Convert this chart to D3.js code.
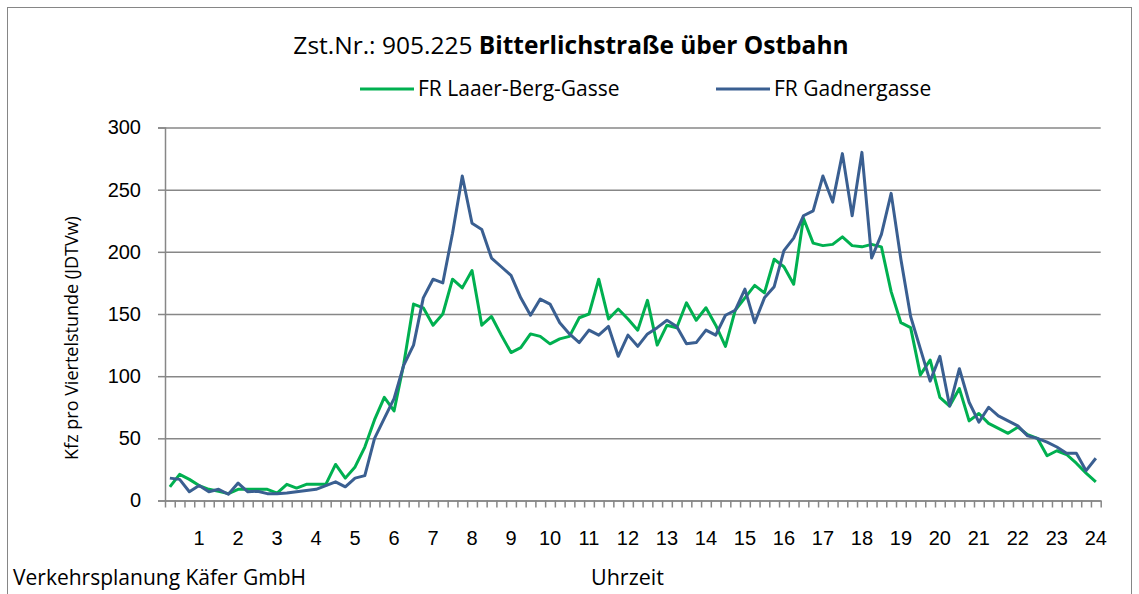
<!DOCTYPE html>
<html>
<head>
<meta charset="utf-8">
<script src="https://cdn.jsdelivr.net/npm/d3@7"></script>
<style>
  body { margin: 0; background: #fff; }
  svg { display: block; font-family: "Open Sans", sans-serif; }
</style>
</head>
<body>
<svg></svg>
<script>
// Stundenbeschriftung der x-Achse
const hourLabels = d3.range(1, 25).map(String);

// Kfz pro Viertelstunde, 96 Werte (00:00-24:00)
const laaerBerg = [
  11, 21, 17, 12, 9, 7.5, 5.5, 9, 9, 9, 9, 6, 13, 10, 13, 13,
  13, 29, 18, 27, 43, 65, 83, 72, 110, 158, 155, 141, 150, 178, 171, 185,
  141, 148, 133, 119, 123, 134, 132, 126, 130, 132, 147, 150, 178, 146, 154, 146,
  137, 161, 125, 141, 139, 159, 145, 155, 141, 124, 153, 163, 173, 167, 194, 188,
  174, 227, 207, 205, 206, 212, 205, 204, 206, 204, 168, 143, 139, 101, 113, 83,
  76, 90, 64, 70, 62, 58, 54, 59, 53, 50, 36, 40, 37, 30, 22, 15
];
const gadner = [
  18, 17, 7, 12, 7, 9, 5, 14, 7, 7.5, 5.5, 5.5, 6, 7, 8, 9,
  12, 15, 11, 18, 20, 50, 66, 82, 109, 125, 163, 178, 175, 215, 261, 223,
  218, 195, 188, 181, 163, 149, 162, 158, 143, 134, 127, 137, 133, 140, 116, 133,
  124, 134, 139, 145, 140, 126, 127, 137, 133, 149, 153, 170, 143, 163, 172, 201,
  211, 229, 233, 261, 240, 279, 229, 280, 195, 214, 247, 194, 148, 122, 96, 116,
  76, 106, 79, 63, 75, 68, 64, 60, 52, 50, 47, 43, 38, 38, 24, 34
];

const yTicks = [0, 50, 100, 150, 200, 250, 300];
const seriesNames = ["FR Laaer-Berg-Gasse", "FR Gadnergasse"];
const seriesColors = ["#00b050", "#3a5f91"];

const width = 1139;
const height = 594;
const marginTop = 127.5;
const marginRight = 38.3;
const marginBottom = 93.5;
const marginLeft = 165;

const svg = d3.select("svg")
    .attr("width", width)
    .attr("height", height)
    .attr("viewBox", [0, 0, width, height]);

// Rahmen des Diagrammbereichs
svg.append("rect")
    .attr("x", 7.5).attr("y", 7.5)
    .attr("width", 1124).attr("height", 600)
    .attr("fill", "#fff")
    .attr("stroke", "#868686")
    .attr("stroke-width", 1);

// Kategorien (Viertelstunden) und Grenzen dazwischen
const x = d3.scaleBand()
    .domain(d3.range(laaerBerg.length))
    .range([marginLeft, width - marginRight]);
const xEdge = d3.scaleLinear()
    .domain([0, laaerBerg.length])
    .range([marginLeft, width - marginRight]);
const y = d3.scaleLinear()
    .domain([0, 300])
    .range([height - marginBottom, marginTop]);

// Gitterlinien + y-Achse
svg.append("g")
    .attr("transform", `translate(${marginLeft},0)`)
    .call(d3.axisLeft(y).tickValues(yTicks).tickSize(7).tickPadding(17))
    .call(g => g.selectAll(".tick line").clone()
        .attr("x1", 0)
        .attr("x2", width - marginLeft - marginRight))
    .call(g => g.selectAll("line, path").attr("stroke", "#878787").attr("stroke-width", 1.5))
    .call(g => g.selectAll("text").attr("font-size", 20).attr("fill", "#000")
        .attr("font-family", null));

// x-Achse: Teilstriche an den Grenzen
svg.append("g")
    .attr("transform", `translate(0,${height - marginBottom})`)
    .call(d3.axisBottom(xEdge).tickValues(d3.range(laaerBerg.length + 1))
        .tickSize(7).tickSizeOuter(0).tickFormat(""))
    .call(g => g.selectAll("line, path").attr("stroke", "#878787").attr("stroke-width", 1.5));

// x-Achse: Stundenbeschriftung
svg.append("g")
    .attr("transform", `translate(0,${height - marginBottom})`)
    .call(d3.axisBottom(x).tickValues(d3.range(3, laaerBerg.length, 4))
        .tickFormat(i => hourLabels[(i - 3) / 4]).tickSize(0).tickPadding(30))
    .call(g => g.select(".domain").remove())
    .call(g => g.selectAll("text").attr("font-size", 20).attr("fill", "#000")
        .attr("font-family", null));

// Linien
const line = d3.line()
    .x((d, i) => x(i) + x.bandwidth() / 2)
    .y(d => y(d));

svg.append("g")
    .selectAll("path")
    .data([laaerBerg, gadner])
    .join("path")
    .attr("fill", "none")
    .attr("stroke", (d, i) => seriesColors[i])
    .attr("stroke-width", 3)
    .attr("stroke-linejoin", "round")
    .attr("d", line);

// Titel
svg.append("text")
    .attr("x", 571)
    .attr("y", 54)
    .attr("text-anchor", "middle")
    .attr("font-size", 24.5)
    .call(t => t.append("tspan").text("Zst.Nr.: 905.225 "))
    .call(t => t.append("tspan").attr("font-weight", "bold").text("Bitterlichstraße über Ostbahn"));

// Legende
const legendX = [360, 716];
const legend = svg.append("g")
    .selectAll("g")
    .data(seriesNames)
    .join("g")
    .attr("transform", (d, i) => `translate(${legendX[i]},89)`);
legend.append("line")
    .attr("x2", 54)
    .attr("stroke", (d, i) => seriesColors[i])
    .attr("stroke-width", 3);
legend.append("text")
    .attr("x", 58)
    .attr("dy", "0.35em")
    .attr("font-size", 21)
    .text(d => d);

// Achsentitel
svg.append("text")
    .attr("transform", "translate(78,338) rotate(-90)")
    .attr("text-anchor", "middle")
    .attr("font-size", 18)
    .text("Kfz pro Viertelstunde (JDTVw)");

svg.append("text")
    .attr("x", 591)
    .attr("y", 585)
    .attr("font-size", 21.5)
    .text("Uhrzeit");

svg.append("text")
    .attr("x", 13)
    .attr("y", 585)
    .attr("font-size", 21)
    .text("Verkehrsplanung Käfer GmbH");
</script>
</body>
</html>
